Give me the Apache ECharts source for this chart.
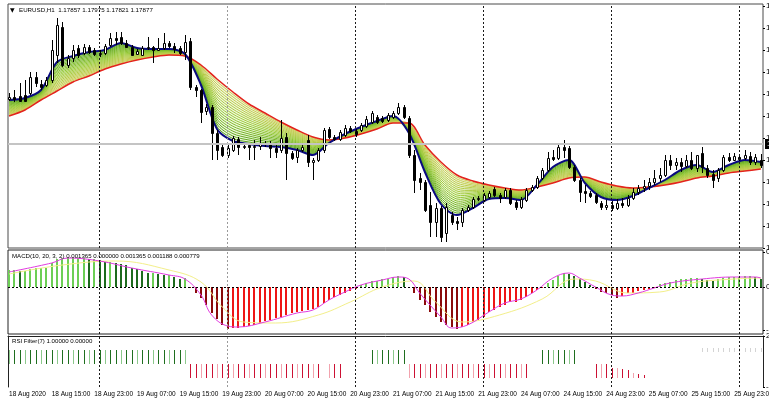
<!DOCTYPE html>
<html><head><meta charset="utf-8">
<script src="https://cdn.jsdelivr.net/npm/echarts@6/dist/echarts.min.js"></script>
<style>html,body{margin:0;padding:0;background:#fff;overflow:hidden}#c{width:769px;height:401px}</style>
</head><body><div id="c"></div>
<script>
const _ = null;
// ---------- time axis ----------
const timeLabels = ["18 Aug 2020","18 Aug 15:00","18 Aug 23:00","19 Aug 07:00","19 Aug 15:00","19 Aug 23:00","20 Aug 07:00","20 Aug 15:00","20 Aug 23:00","21 Aug 07:00","21 Aug 15:00","21 Aug 23:00","24 Aug 07:00","24 Aug 15:00","24 Aug 23:00","25 Aug 07:00","25 Aug 15:00","25 Aug 23:00"];
const labelBars = [0,8,16,24,32,40,48,56,64,72,80,88,96,104,112,120,128,136];
const daySeparators = [17,41,65,89,113,137];
// ---------- price (EURUSD H1) ----------
const priceTicks = [1.1748,1.1759,1.1770,1.1781,1.1792,1.1803,1.1814,1.1825,1.1836,1.1847,1.1858,1.1869];
const open = [
1.18225,1.18235,1.1824,1.18245,1.18255,1.18335,1.183,1.18295,1.1832,1.18445,
1.18585,1.18395,1.1843,1.1848,1.18455,1.18485,1.1847,1.1845,1.18455,1.18495,
1.1853,1.18535,1.18505,1.18485,1.1845,1.18445,1.1848,1.18485,1.1847,1.1848,
1.18505,1.1849,1.1848,1.1846,1.18515,1.18285,1.1827,1.18165,1.18185,1.18055,
1.17985,1.17945,1.1797,1.18025,1.17985,1.17995,1.17985,1.1799,1.18005,1.18005,
1.1798,1.1797,1.18035,1.17955,1.17935,1.1797,1.1802,1.1791,1.1792,1.1797,
1.18075,1.18035,1.18025,1.18045,1.1808,1.18065,1.1807,1.1809,1.1811,1.18135,
1.1813,1.1812,1.18135,1.18155,1.18185,1.1813,1.17945,1.1783,1.1781,1.17695,
1.1761,1.1768,1.17555,1.17645,1.17615,1.1761,1.1767,1.17685,1.17725,1.1772,
1.17735,1.17775,1.17745,1.17735,1.1777,1.1771,1.17685,1.1772,1.1777,1.17785,
1.1783,1.1787,1.17935,1.1793,1.17985,1.1798,1.17885,1.1782,1.17765,1.17755,
1.17745,1.17705,1.17685,1.17695,1.1768,1.17705,1.17695,1.1773,1.1776,1.1778,
1.1779,1.1781,1.1783,1.17845,1.1792,1.17895,1.1791,1.1789,1.1792,1.1788,
1.17955,1.1788,1.1785,1.1783,1.1787,1.17935,1.1792,1.17935,1.1793,1.1794,1.1791,1.1792];
const high = [
1.18255,1.1827,1.18305,1.1832,1.1836,1.1836,1.1832,1.18335,1.1852,1.1863,
1.1861,1.18445,1.18495,1.18495,1.185,1.18495,1.1848,1.1847,1.185,1.18555,
1.1856,1.1856,1.1852,1.18495,1.18475,1.1849,1.18535,1.1849,1.1853,1.18555,
1.18515,1.18505,1.1849,1.18545,1.1853,1.18295,1.18275,1.182,1.18195,1.1807,
1.18005,1.17995,1.1804,1.18035,1.18,1.18005,1.1802,1.18035,1.18015,1.18015,
1.18005,1.1812,1.18055,1.17965,1.1798,1.17995,1.18045,1.1793,1.1798,1.1808,
1.18085,1.18045,1.1807,1.18095,1.1809,1.18075,1.18105,1.1814,1.18165,1.18145,
1.1814,1.18155,1.18165,1.18205,1.18195,1.1814,1.1797,1.17855,1.1782,1.1776,
1.17705,1.1769,1.17705,1.1766,1.17635,1.1768,1.17695,1.17735,1.1774,1.17755,
1.17765,1.17785,1.17755,1.1778,1.1778,1.1772,1.17735,1.1778,1.17795,1.1784,
1.1788,1.1796,1.1797,1.18005,1.1802,1.1799,1.17895,1.1783,1.17795,1.17765,
1.17755,1.17715,1.1772,1.17715,1.17725,1.1773,1.17745,1.1778,1.17795,1.1782,
1.1783,1.1787,1.1788,1.17945,1.17945,1.1793,1.1793,1.17945,1.1796,1.1793,
1.17985,1.17895,1.1787,1.1788,1.17945,1.17955,1.17955,1.1795,1.1797,1.1796,1.1795,1.1795];
const low = [
1.18215,1.1821,1.1821,1.1821,1.18245,1.18285,1.1827,1.18285,1.18305,1.18405,
1.18385,1.1838,1.1841,1.1843,1.18445,1.1845,1.1844,1.18435,1.18445,1.18485,
1.18495,1.18495,1.1848,1.1844,1.18445,1.1844,1.1847,1.18405,1.18465,1.1847,
1.1848,1.18455,1.18445,1.1842,1.1827,1.18235,1.18105,1.18145,1.1792,1.1792,
1.17935,1.1793,1.1796,1.17945,1.17975,1.1792,1.1792,1.1797,1.17985,1.1793,
1.1793,1.17955,1.1782,1.1792,1.17905,1.1796,1.17885,1.1782,1.1791,1.17955,
1.18025,1.18015,1.18015,1.18035,1.18055,1.18035,1.1806,1.1808,1.181,1.181,
1.18105,1.1811,1.18125,1.18145,1.18125,1.1793,1.17755,1.1777,1.1766,1.17535,
1.17535,1.1751,1.1751,1.17595,1.1757,1.17585,1.1766,1.17675,1.17715,1.1771,
1.17725,1.17735,1.17705,1.17725,1.17695,1.1767,1.17675,1.1771,1.1776,1.17775,
1.1782,1.1786,1.17915,1.1792,1.1793,1.17875,1.1781,1.1771,1.17705,1.1773,
1.177,1.1767,1.1767,1.17665,1.1767,1.1768,1.17685,1.1772,1.17745,1.1776,
1.1777,1.17795,1.1781,1.17835,1.1787,1.1787,1.1786,1.1788,1.1787,1.1786,
1.17855,1.1783,1.1778,1.1781,1.1786,1.1791,1.17915,1.17915,1.1792,1.17895,1.17895,1.1788];
const close = [
1.18235,1.18225,1.18215,1.18215,1.18335,1.18305,1.18285,1.1832,1.1847,1.18595,
1.18395,1.1843,1.1847,1.18445,1.18485,1.1846,1.1845,1.18455,1.1849,1.1853,
1.1852,1.18505,1.18485,1.18445,1.18465,1.1848,1.18485,1.1847,1.1848,1.18505,
1.1849,1.18475,1.18455,1.1851,1.18285,1.1827,1.1816,1.18185,1.18055,1.1797,
1.17945,1.1798,1.1803,1.17985,1.1799,1.17985,1.1799,1.18005,1.18,1.1798,
1.1796,1.1803,1.17955,1.1793,1.1797,1.17985,1.1791,1.1792,1.1797,1.1807,
1.18035,1.18025,1.1806,1.1808,1.18065,1.1805,1.18095,1.18125,1.18155,1.1811,
1.18115,1.18145,1.18155,1.18185,1.18135,1.17945,1.1782,1.1781,1.1767,1.1761,
1.1768,1.17535,1.17685,1.1761,1.17605,1.1767,1.17685,1.17725,1.1773,1.17745,
1.17755,1.17745,1.1773,1.1777,1.17705,1.17685,1.17725,1.1777,1.17785,1.1783,
1.1787,1.1793,1.17925,1.17985,1.1797,1.17885,1.1782,1.1776,1.17755,1.1774,
1.1771,1.17685,1.17695,1.1768,1.17705,1.17695,1.1773,1.1776,1.1778,1.1779,
1.1781,1.1783,1.17845,1.1792,1.17895,1.1791,1.1789,1.1792,1.1788,1.17945,
1.17885,1.17845,1.1782,1.1787,1.17935,1.1792,1.1794,1.17925,1.17945,1.1791,1.17935,1.17895];
const bidLine = 1.17685;
// ---------- moving-average ribbon (fast = blue edge, slow = red edge) ----------
const maIndex = [0,3,6,9,12,15,18,21,24,27,30,33,36,39,42,45,48,51,54,57,60,63,66,69,72,75,78,81,84,87,90,93,96,99,102,105,108,111,114,117,120,123,126,129,132,135,138,141];
const maFast = [1.1822,1.1823,1.1827,1.1841,1.1844,1.1846,1.1847,1.18505,1.1848,1.18475,1.18475,1.1845,1.18295,1.18075,1.18015,1.18,1.1799,1.17985,1.1797,1.17945,1.18005,1.1805,1.18085,1.18115,1.1814,1.18055,1.1786,1.177,1.17645,1.1768,1.17725,1.1773,1.1772,1.17795,1.17885,1.1792,1.17805,1.17735,1.1772,1.1774,1.1778,1.1782,1.1787,1.17895,1.1786,1.17895,1.1792,1.1791];
const maSlow = [1.1814,1.1817,1.1822,1.18265,1.1831,1.1834,1.18375,1.184,1.1842,1.18435,1.18445,1.1844,1.18395,1.18325,1.1826,1.182,1.18155,1.1811,1.1807,1.18035,1.1802,1.1803,1.1805,1.18075,1.18105,1.18105,1.17995,1.1791,1.17845,1.17815,1.17795,1.1778,1.1777,1.17785,1.17805,1.1783,1.17835,1.1781,1.1779,1.1778,1.17785,1.17795,1.1781,1.1783,1.1784,1.17855,1.17865,1.17875];
// ---------- MACD(10,20,3,2) ----------
const macdTicks = [0.0035, 0, -0.0043];
const macdHist = [
0.0017,0.0017,0.0016,0.0016,0.0018,0.0019,0.0019,0.0019,0.0024,0.0028,
0.0029,0.0029,0.0029,0.0029,0.0029,0.0028,0.0028,0.0027,0.0025,0.0025,
0.0024,0.0023,0.0022,0.0019,0.0018,0.0016,0.0014,0.0014,0.0013,0.0012,
0.0012,0.0010,0.0008,0.0009,-0.0001,-0.0006,-0.0011,-0.0018,-0.0026,-0.0032,
-0.0038,-0.0042,-0.0041,-0.0041,-0.0040,-0.0039,-0.0038,-0.0036,-0.0034,-0.0033,
-0.0031,-0.0030,-0.0028,-0.0026,-0.0025,-0.0024,-0.0023,-0.0022,-0.0020,-0.0016,
-0.0013,-0.0010,-0.0008,-0.0006,-0.0004,-0.0002,0.0002,0.0004,0.0006,0.0006,
0.0008,0.0008,0.0010,0.0011,0.0010,-0.0001,-0.0006,-0.0013,-0.0018,-0.0025,
-0.0030,-0.0035,-0.0038,-0.0040,-0.0042,-0.0040,-0.0038,-0.0035,-0.0033,-0.0030,
-0.0025,-0.0023,-0.0020,-0.0018,-0.0015,-0.0015,-0.0013,-0.0010,-0.0006,-0.0003,
-0.0001,0.0004,0.0007,0.0011,0.0014,0.0013,0.0011,0.0008,0.0005,0.0002,
-0.0002,-0.0005,-0.0006,-0.0008,-0.0011,-0.0009,-0.0006,-0.0006,-0.0004,-0.0003,
-0.0002,-0.0001,0.0003,0.0004,0.0005,0.0007,0.0008,0.0008,0.0009,0.0009,
0.0008,0.0007,0.0006,0.0008,0.0009,0.0010,0.0010,0.0010,0.0011,0.0011,0.0010,0.0008];
const macdSignal = [[0,0.0015],[8,0.0024],[11,0.0029],[17,0.0026],[23,0.0019],[30,0.0012],[33,0.0008],[36,-0.0008],[38,-0.0028],[41,-0.0039],[43,-0.0040],[48,-0.0035],[54,-0.0026],[57,-0.0023],[60,-0.0013],[63,-0.0005],[66,0.0002],[70,0.0007],[73,0.0010],[75,0.0008],[77,-0.0006],[81,-0.0030],[83,-0.0041],[86,-0.0038],[90,-0.0025],[93,-0.0016],[96,-0.0012],[99,-0.0003],[102,0.0009],[105,0.0014],[107,0.0009],[110,0.0000],[113,-0.0008],[115,-0.0009],[118,-0.0006],[121,-0.0001],[124,0.0004],[130,0.0008],[136,0.0010],[140,0.0010],[141,0.0009]];
const macdSlowLine = [[0,0.0013],[10,0.0022],[20,0.0026],[30,0.0017],[36,0.0005],[40,-0.0020],[44,-0.0035],[50,-0.0036],[58,-0.0028],[64,-0.0015],[70,0.0000],[76,0.0006],[80,-0.0015],[85,-0.0035],[92,-0.0028],[100,-0.0012],[106,0.0008],[110,0.0006],[116,-0.0006],[122,-0.0005],[128,0.0004],[136,0.0008],[141,0.0009]];
// ---------- RSI Filter(7) ----------
const rsiTicks = [2, -1.643];
const rsiBull = [
1,1,1,1,1,1,1,1,1,1,1,1,1,1,1,1,1,1,1,1,1,1,1,1,1,1,1,1,1,1,1,1,1,1,
_,_,_,_,_,_,_,_,_,_,_,_,_,_,_,_,_,_,_,_,_,_,_,_,_,_,_,_,_,_,_,_,_,_,
1,1,1,1,1,1,1,
_,_,_,_,_,_,_,_,_,_,_,_,_,_,_,_,_,_,_,_,_,_,_,_,_,
1,1,1,1,1,1,1,
_,_,_,_,_,_,_,_,_,_,_,_,_,_,_,_,_,_,_,_,_,_,_,_,_,_,_,_,_,_,_,_,_,_,_];
const rsiBear = [
_,_,_,_,_,_,_,_,_,_,_,_,_,_,_,_,_,_,_,_,_,_,_,_,_,_,_,_,_,_,_,_,_,_,
0,0,0,0,0,0,0,0,0,0,0,0,0,0,0,0,0,0,0,0,0,0,0,0,0,
_,
0,0,0,
_,_,_,_,_,_,_,_,_,_,_,_,
0,0,0,0,0,0,0,0,0,0,0,0,0,0,0,0,0,0,0,0,0,0,0,
_,_,_,_,_,_,_,_,_,_,_,_,
0,0,0,
-0.29,-0.29,-0.36,-0.43,-0.64,-0.71,-0.79,
_,_,_,_,_,_,_,_,_,_,_,_,_,_,_,_,_,_,_,_,_,_];
const rsiNeutral = [
_,_,_,_,_,_,_,_,_,_,_,_,_,_,_,_,_,_,_,_,_,_,_,_,_,_,_,_,_,_,_,_,_,_,_,_,_,_,_,_,
_,_,_,_,_,_,_,_,_,_,_,_,_,_,_,_,_,_,_,_,_,_,_,_,_,_,_,_,_,_,_,_,_,_,_,_,_,_,_,_,
_,_,_,_,_,_,_,_,_,_,_,_,_,_,_,_,_,_,_,_,_,_,_,_,_,_,_,_,_,_,_,_,_,_,_,_,_,_,_,_,
_,_,_,_,_,_,_,_,_,_,
1,1,1,1,1,1,1,1,1,1,1,1];

// ================= rendering =================
const FONT = '"Liberation Sans",Arial,sans-serif';
const XMIN = -0.19, XMAX = 141.41;
const N = close.length;
const idx = Array.from({length:N}, (_, i) => i);

function lerpColor(a, b, t){
  const pa=[parseInt(a.slice(1,3),16),parseInt(a.slice(3,5),16),parseInt(a.slice(5,7),16)];
  const pb=[parseInt(b.slice(1,3),16),parseInt(b.slice(3,5),16),parseInt(b.slice(5,7),16)];
  return 'rgb('+pa.map((v,k)=>Math.round(v+(pb[k]-v)*t)).join(',')+')';
}
function stripeColor(t){ return t<0.5 ? lerpColor('#4e9e16','#9bcb3a',t*2) : lerpColor('#9bcb3a','#d6cc58',(t-0.5)*2); }

function xAx(g, withLabels){
  return {gridIndex:g, type:'value', min:XMIN, max:XMAX, position:'bottom',
    axisLine:{show:false}, axisTick:{show:false}, splitLine:{show:false},
    axisLabel: withLabels ? {show:true, customValues:labelBars, align:'left', margin:4,
      showMinLabel:true, showMaxLabel:true, hideOverlap:false,
      fontSize:6.5, fontFamily:FONT, color:'#000',
      formatter:(v)=>timeLabels[labelBars.indexOf(Math.round(v))]} : {show:false}};
}
function frameX(g, pos){
  return {gridIndex:g, type:'value', min:XMIN, max:XMAX, position:pos,
    axisLine:{show:true, onZero:false, lineStyle:{color:'#222', width:1}}, axisTick:{show:false}, axisLabel:{show:false}, splitLine:{show:false}};
}
function yAx(g, min, max, ticks, dec, showLine){
  return {gridIndex:g, type:'value', position:'right', min:min, max:max,
    axisLine:{show:!!showLine, onZero:false, lineStyle:{color:'#222', width:1}}, splitLine:{show:false},
    axisTick:{show:true, length:2, customValues:ticks, lineStyle:{color:'#000'}},
    axisLabel:{show:true, customValues:ticks, margin:3, fontSize:8, fontFamily:FONT, color:'#000',
      formatter:(v)=>v.toFixed(dec)}};
}
function frameY(g, min, max){
  return {gridIndex:g, type:'value', position:'left', min:min, max:max,
    axisLine:{show:true, onZero:false, lineStyle:{color:'#222', width:1}}, axisTick:{show:false}, axisLabel:{show:false}, splitLine:{show:false}};
}
function sepLines(){
  return daySeparators.map(v=>({xAxis:v, lineStyle:{color: v===41?'#9a9a9a':'#1a1a1a', type:[2,2], width:1}, label:{show:false}}));
}
const gridBase = {containLabel:false, outerBoundsMode:'none', borderWidth:1};

const option = {
  animation:false,
  backgroundColor:'#ffffff',
  grid:[
    Object.assign({left:8, top:4, width:755, height:244, show:true, borderColor:'#4a4a4a'}, gridBase),
    Object.assign({left:8, top:250, width:755, height:84, show:true, borderColor:'#222'}, gridBase),
    Object.assign({left:8, top:336, width:755, height:51, show:false}, gridBase)
  ],
  xAxis:[xAx(0,false), xAx(1,false), xAx(2,true), frameX(2,'top')],
  yAxis:[
    yAx(0, 1.1748, 1.1870, priceTicks, 5, false),
    yAx(1, -0.0047, 0.0037, macdTicks, 6, false),
    yAx(2, -1.643, 2, rsiTicks, 2, true),
    frameY(2, -1.643, 2)
  ],
  graphic:[
    {type:'text', x:10, y:10, z:100, style:{text:'▼', font:'6px "DejaVu Sans"', fill:'#000', verticalAlign:'middle'}},
    {type:'text', x:19, y:10, z:100, style:{text:'EURUSD,H1  1.17857 1.17975 1.17821 1.17877', font:'6.2px '+FONT, fill:'#000', verticalAlign:'middle'}},
    {type:'text', x:12, y:256, z:100, style:{text:'MACD(10, 20, 3, 2) 0.001365 0.000000 0.001365 0.001188 0.000779', font:'6.1px '+FONT, fill:'#000', verticalAlign:'middle'}},
    {type:'text', x:12, y:341, z:100, style:{text:'RSI Filter(7) 1.00000 0.00000', font:'6.1px '+FONT, fill:'#000', verticalAlign:'middle'}}
  ],
  series:[
    {type:'custom', name:'ribbon', xAxisIndex:0, yAxisIndex:0, silent:true, z:1, clip:true,
     data:[[0, maFast[0]]],
     renderItem:function(params, api){
       const f = maIndex.map((ix,k)=>api.coord([ix, maFast[k]]));
       const s = maIndex.map((ix,k)=>api.coord([ix, maSlow[k]]));
       const ch = [{type:'polygon', shape:{points:f.concat(s.slice().reverse())}, style:{fill:'#eff7dc'}}];
       const M = 20;
       for(let k=1;k<M;k++){
         const t=k/M;
         ch.push({type:'polyline', shape:{points:f.map((p,j)=>[p[0], p[1]+(s[j][1]-p[1])*t]), smooth:0.3},
                  style:{stroke:stripeColor(t), lineWidth:1, fill:null}});
       }
       return {type:'group', children:ch};
     }},
    {type:'line', name:'slow MA', xAxisIndex:0, yAxisIndex:0, z:2, silent:true, symbol:'none', smooth:0.3,
     data:maIndex.map((ix,k)=>[ix, maSlow[k]]), lineStyle:{color:'#e3231c', width:1.5}},
    {type:'line', name:'fast MA', xAxisIndex:0, yAxisIndex:0, z:2, silent:true, symbol:'none', smooth:0.3,
     data:maIndex.map((ix,k)=>[ix, maFast[k]]), lineStyle:{color:'#0a0a80', width:2}},
    {type:'custom', name:'EURUSD', xAxisIndex:0, yAxisIndex:0, z:3, silent:true, clip:true,
     data: idx.map(i=>[i, open[i], high[i], low[i], close[i]]),
     renderItem:function(params, api){
       const i=api.value(0), o=api.value(1), h=api.value(2), l=api.value(3), c=api.value(4);
       const pH=api.coord([i,h]), pL=api.coord([i,l]), pO=api.coord([i,o]), pC=api.coord([i,c]);
       const x=Math.round(pH[0])+0.5;
       const top=Math.round(Math.min(pO[1],pC[1]))+0.5, bot=Math.round(Math.max(pO[1],pC[1]))+0.5;
       return {type:'group', children:[
         {type:'line', shape:{x1:x, y1:Math.round(pH[1]), x2:x, y2:Math.round(pL[1])}, style:{stroke:'#000', lineWidth:1}},
         {type:'rect', shape:{x:x-1, y:top, width:2, height:Math.max(1,bot-top)}, style:{fill: c>=o?'#fff':'#000', stroke:'#000', lineWidth:1}}
       ]};
     },
     markLine:{silent:true, symbol:['none','none'], animation:false,
       data: sepLines().concat([{yAxis:bidLine, lineStyle:{color:'#c4c4c4', width:2, type:'solid'},
          label:{show:true, position:'end', distance:2, formatter:bidLine.toFixed(5), color:'#fff', backgroundColor:'#000', fontSize:8, padding:[1,2]}}])}
    },
    {type:'custom', name:'MACD', xAxisIndex:1, yAxisIndex:1, z:2, silent:true, clip:true,
     data: idx.map(i=>[i, macdHist[i]]),
     renderItem:function(params, api){
       const i=api.value(0), v=api.value(1);
       const prev = i>0 ? macdHist[i-1] : v;
       const col = v>=0 ? (v>=prev ? '#6ccf55' : '#1d6b1d') : (v>=prev ? '#ee1616' : '#8a0a0a');
       const p0=api.coord([i,0]), p1=api.coord([i,v]);
       const x=Math.round(p0[0]);
       const y0=Math.round(p0[1]), y1=Math.round(p1[1]);
       return {type:'rect', shape:{x:x-1, y:Math.min(y0,y1), width:2, height:Math.max(1,Math.abs(y1-y0))}, style:{fill:col}};
     },
     markLine:{silent:true, symbol:['none','none'], animation:false,
       data: sepLines().concat([{yAxis:0, lineStyle:{color:'#000', type:[2,2], width:1}, label:{show:false}}])}
    },
    {type:'line', name:'slow', xAxisIndex:1, yAxisIndex:1, z:3, silent:true, symbol:'none', smooth:0.4,
     data:macdSlowLine, lineStyle:{color:'#f3ef8a', width:1}},
    {type:'line', name:'signal', xAxisIndex:1, yAxisIndex:1, z:4, silent:true, symbol:'none', smooth:0.4,
     data:macdSignal, lineStyle:{color:'#e23be0', width:1}},
    {type:'custom', name:'RSI Filter', xAxisIndex:2, yAxisIndex:2, z:2, silent:true, clip:true,
     data: idx.map(i=>[i, rsiBull[i]==null?0:rsiBull[i], rsiBear[i]==null?9:rsiBear[i], rsiNeutral[i]==null?0:rsiNeutral[i]]),
     renderItem:function(params, api){
       const i=api.value(0), b=api.value(1), r=api.value(2), nt=api.value(3);
       const ch=[];
       const light = (i%3===0);
       if(b>0){
         const p0=api.coord([i,0]), p1=api.coord([i,b]); const x=Math.round(p0[0])+0.5;
         ch.push({type:'line', shape:{x1:x,y1:Math.round(p0[1]),x2:x,y2:Math.round(p1[1])}, style:{stroke: light?'#8cc98c':'#1f6e1f', lineWidth:1}});
       }
       if(r<=0){
         const p0=api.coord([i,-1]), p1=api.coord([i,r]); const x=Math.round(p0[0])+0.5;
         ch.push({type:'line', shape:{x1:x,y1:Math.round(p0[1]),x2:x,y2:Math.round(p1[1])}, style:{stroke: light?'#f2a3ae':'#cc1133', lineWidth:1}});
       }
       if(nt>0){
         const p0=api.coord([i,nt-0.15]), p1=api.coord([i,nt+0.15]); const x=Math.round(p0[0])+0.5;
         ch.push({type:'line', shape:{x1:x,y1:Math.round(p0[1]),x2:x,y2:Math.round(p1[1])}, style:{stroke:'#d4d4d4', lineWidth:1}});
       }
       return {type:'group', children:ch};
     },
     markLine:{silent:true, symbol:['none','none'], animation:false, data: sepLines()}
    }
  ]
};
const chart = echarts.init(document.getElementById('c'), null, {renderer:'canvas'});
chart.setOption(option);
</script></body></html>
